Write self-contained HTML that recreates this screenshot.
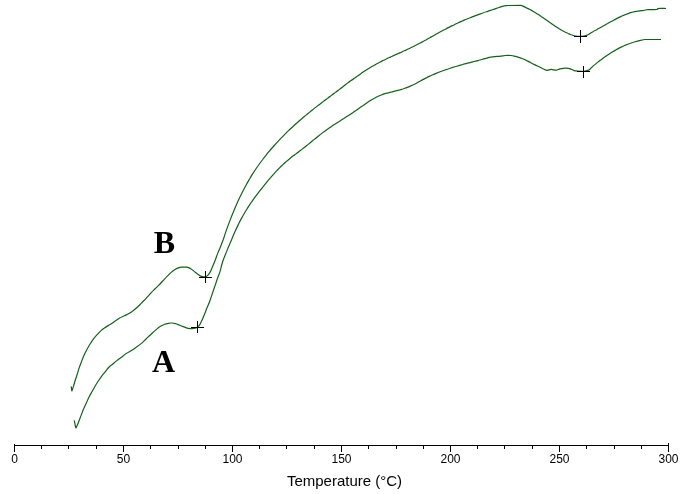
<!DOCTYPE html>
<html><head><meta charset="utf-8"><title>DSC</title>
<style>
html,body{margin:0;padding:0;background:#fff;}
svg{display:block}
.ax text{font-family:"Liberation Sans",Arial,sans-serif;font-size:12px;fill:#000}
.lab{font-family:"Liberation Serif","Times New Roman",serif;font-weight:bold;font-size:32px;fill:#000}
.xl{font-family:"Liberation Sans",Arial,sans-serif;font-size:15px;fill:#000}
</style></head><body>
<svg width="688" height="494" viewBox="0 0 688 494">
<rect width="688" height="494" fill="#fff"/>
<g fill="none" stroke="#14601a" stroke-width="1.2" stroke-linejoin="round" stroke-linecap="butt">
<path d="M71.2,386.4L71.8,391.3M71.8,391.3C72.0,390.6 72.6,389.0 73.2,387.1C73.8,385.2 74.7,382.1 75.3,380.0C75.9,377.9 76.5,376.6 77.1,374.7C77.7,372.8 78.2,370.7 78.9,368.6C79.6,366.5 80.6,364.0 81.4,361.9C82.2,359.8 82.9,357.8 83.8,355.8C84.7,353.8 85.8,351.7 86.8,349.8C87.8,347.9 88.8,346.1 89.9,344.3C91.0,342.5 92.3,340.4 93.5,338.8C94.7,337.2 96.0,335.9 97.2,334.6C98.4,333.3 99.6,332.0 100.8,330.9C102.0,329.8 102.9,328.9 104.4,327.9C105.9,326.8 108.2,325.7 110.0,324.6C111.8,323.5 113.3,322.3 114.9,321.2C116.5,320.1 118.1,319.0 119.7,318.1C121.3,317.2 123.0,316.5 124.6,315.7C126.2,314.9 128.0,314.1 129.4,313.3C130.8,312.5 131.9,311.7 133.1,310.8C134.3,309.9 135.5,308.9 136.7,307.8C137.9,306.7 139.2,305.4 140.4,304.2C141.6,303.0 142.8,301.8 144.0,300.5C145.2,299.2 146.5,297.9 147.7,296.6C148.9,295.3 150.1,293.9 151.3,292.6C152.5,291.3 153.7,290.2 154.9,289.0C156.1,287.8 157.8,286.1 158.6,285.3C159.4,284.5 159.2,284.9 160.0,284.0C160.8,283.1 162.4,281.4 163.6,280.1C164.8,278.8 166.1,277.4 167.3,276.2C168.5,274.9 169.7,273.7 170.9,272.6C172.1,271.5 173.4,270.6 174.6,269.8C175.8,269.0 177.0,268.3 178.2,267.9C179.4,267.5 180.6,267.3 181.9,267.2C183.2,267.1 184.9,267.1 186.1,267.2C187.3,267.3 188.2,267.5 189.2,267.9C190.2,268.3 191.2,269.1 192.2,269.8C193.2,270.5 194.2,271.4 195.2,272.2C196.2,273.0 197.3,273.9 198.3,274.6C199.3,275.3 200.1,276.0 201.3,276.4C202.5,276.8 204.8,277.1 205.5,277.2M205.5,277.2C205.9,276.9 207.2,276.1 208.0,275.2C208.8,274.3 209.6,273.1 210.4,271.6C211.2,270.1 212.0,268.0 212.8,266.1C213.6,264.2 214.5,262.1 215.3,260.0C216.1,257.9 216.9,255.4 217.7,253.4C218.5,251.4 219.1,250.1 220.0,247.9C220.9,245.7 222.0,242.9 223.1,240.0C224.2,237.1 225.1,233.8 226.3,230.4C227.5,227.0 229.0,223.0 230.3,219.6C231.6,216.1 233.0,212.8 234.3,209.7C235.6,206.5 237.0,203.5 238.3,200.6C239.6,197.7 241.0,194.9 242.3,192.3C243.6,189.6 245.0,187.1 246.3,184.7C247.6,182.3 249.0,180.0 250.3,177.7C251.6,175.5 253.0,173.4 254.3,171.3C255.6,169.3 257.0,167.3 258.3,165.5C259.6,163.6 261.0,161.7 262.3,160.0C263.6,158.2 265.0,156.5 266.3,154.9C267.6,153.2 269.0,151.6 270.3,150.0C271.6,148.5 273.0,147.0 274.3,145.5C275.6,144.0 277.0,142.5 278.3,141.1C279.6,139.6 281.0,138.2 282.3,136.9C283.6,135.5 285.0,134.2 286.3,132.8C287.6,131.5 289.0,130.3 290.3,129.0C291.6,127.7 293.0,126.5 294.3,125.3C295.6,124.1 297.0,122.9 298.3,121.7C299.6,120.5 301.0,119.4 302.3,118.2C303.6,117.1 305.0,116.0 306.3,114.9C307.6,113.8 309.0,112.7 310.3,111.6C311.6,110.5 313.0,109.5 314.3,108.4C315.6,107.4 317.0,106.3 318.3,105.3C319.6,104.3 321.0,103.3 322.3,102.2C323.6,101.2 325.0,100.2 326.3,99.2C327.6,98.2 329.0,97.2 330.3,96.2C331.6,95.2 333.0,94.2 334.3,93.2C335.6,92.2 337.0,91.2 338.3,90.2C339.6,89.2 341.0,88.2 342.3,87.2C343.6,86.1 345.0,85.1 346.3,84.1C347.6,83.1 349.0,82.1 350.3,81.1C351.6,80.2 353.0,79.2 354.3,78.2C355.6,77.2 357.0,76.3 358.3,75.4C359.6,74.4 361.0,73.5 362.3,72.6C363.6,71.7 365.0,70.9 366.3,70.0C367.6,69.2 369.0,68.3 370.3,67.5C371.6,66.7 373.0,66.0 374.3,65.2C375.6,64.4 377.0,63.7 378.3,63.0C379.6,62.3 381.0,61.6 382.3,60.9C383.6,60.3 385.0,59.6 386.3,59.0C387.6,58.3 389.0,57.7 390.3,57.1C391.6,56.5 393.0,55.9 394.3,55.3C395.6,54.7 397.0,54.1 398.3,53.5C399.6,52.9 401.0,52.3 402.3,51.7C403.6,51.1 405.0,50.5 406.3,49.9C407.6,49.2 409.0,48.6 410.3,48.0C411.6,47.3 413.0,46.7 414.3,46.0C415.6,45.4 417.0,44.7 418.3,44.0C419.6,43.3 421.0,42.6 422.3,41.9C423.6,41.1 425.0,40.4 426.3,39.7C427.6,38.9 429.0,38.2 430.3,37.4C431.6,36.7 433.0,36.0 434.3,35.2C435.6,34.5 437.0,33.7 438.3,33.0C439.6,32.2 441.0,31.5 442.3,30.8C443.6,30.1 445.0,29.4 446.3,28.7C447.6,28.0 449.0,27.3 450.3,26.6C451.6,26.0 453.0,25.3 454.3,24.7C455.6,24.0 457.0,23.4 458.3,22.8C459.6,22.2 461.0,21.6 462.3,21.0C463.6,20.4 465.0,19.9 466.3,19.3C467.6,18.8 469.0,18.2 470.3,17.7C471.6,17.2 473.0,16.6 474.3,16.1C475.6,15.6 477.0,15.1 478.3,14.6C479.6,14.1 481.0,13.7 482.3,13.2C483.6,12.7 485.0,12.2 486.3,11.8C487.6,11.3 489.0,10.9 490.3,10.4C491.6,10.0 493.0,9.5 494.3,9.1C495.6,8.6 497.0,8.2 498.3,7.7C499.6,7.3 501.5,6.7 502.3,6.4C503.1,6.1 502.4,6.2 503.3,6.1C504.2,5.9 506.8,5.6 507.5,5.5M507.5,5.5L521.5,5.4M521.5,5.4C522.3,5.8 525.2,7.2 526.5,7.9C527.8,8.5 528.5,8.8 529.5,9.3C530.5,9.8 531.5,10.4 532.5,10.9C533.5,11.5 534.5,12.1 535.5,12.7C536.5,13.3 537.5,14.0 538.5,14.6C539.5,15.3 540.5,16.0 541.5,16.7C542.5,17.3 543.5,18.0 544.5,18.7C545.5,19.4 546.5,20.1 547.5,20.8C548.5,21.5 549.5,22.2 550.5,22.9C551.5,23.6 552.5,24.3 553.5,25.0C554.5,25.7 555.5,26.4 556.5,27.0C557.5,27.7 558.5,28.3 559.5,28.9C560.5,29.5 561.5,30.1 562.5,30.7C563.5,31.2 564.5,31.8 565.5,32.3C566.5,32.8 567.7,33.3 568.5,33.7C569.3,34.1 569.2,34.1 570.4,34.5C571.5,34.9 573.7,35.7 575.4,36.0C577.1,36.3 578.6,36.5 580.5,36.4C582.4,36.3 584.6,36.1 586.6,35.4C588.6,34.7 591.1,32.8 592.6,31.9C594.1,31.0 594.6,30.8 595.6,30.3C596.6,29.7 597.6,29.2 598.6,28.6C599.6,28.0 600.6,27.5 601.6,26.9C602.6,26.3 603.6,25.8 604.6,25.2C605.6,24.6 606.6,24.0 607.6,23.5C608.6,22.9 609.6,22.3 610.6,21.8C611.6,21.2 612.6,20.7 613.6,20.2C614.6,19.6 615.6,19.1 616.6,18.6C617.6,18.1 618.6,17.6 619.6,17.1C620.6,16.6 621.6,16.2 622.6,15.7C623.6,15.3 624.6,14.9 625.6,14.5C626.6,14.1 627.6,13.7 628.6,13.4C629.6,13.0 630.6,12.7 631.6,12.4C632.6,12.1 633.6,11.9 634.6,11.6C635.6,11.4 636.6,11.2 637.6,11.1C638.6,10.9 639.8,10.8 640.6,10.7C641.4,10.6 641.5,10.8 642.6,10.6C643.8,10.4 646.7,9.7 647.5,9.5M647.5,9.5C649.1,9.5 655.2,9.7 657.0,9.5C658.8,9.3 656.5,8.7 658.0,8.5C659.5,8.3 664.7,8.5 666.0,8.5"/>
<path d="M74.2,420.3L75.8,428.2M75.8,428.2C76.1,427.5 76.9,426.0 77.8,423.9C78.7,421.8 80.2,417.7 81.1,415.4C82.0,413.1 82.3,412.0 83.1,410.0C83.9,408.0 85.1,405.6 86.1,403.4C87.1,401.2 88.2,398.8 89.2,396.8C90.2,394.8 91.2,393.1 92.2,391.3C93.2,389.5 94.3,387.5 95.3,385.8C96.3,384.1 97.2,382.7 98.3,381.0C99.4,379.3 100.7,377.4 101.9,375.8C103.1,374.2 104.4,372.8 105.6,371.3C106.8,369.8 108.0,368.2 109.2,367.0C110.4,365.8 111.7,365.0 112.9,364.0C114.1,363.0 115.1,362.0 116.5,360.9C117.9,359.8 119.8,358.5 121.4,357.3C123.0,356.1 124.6,354.7 126.2,353.6C127.8,352.5 129.5,351.8 131.1,350.8C132.7,349.8 133.7,349.1 135.5,347.8C137.3,346.5 139.9,344.6 141.7,343.1C143.4,341.6 144.6,340.3 146.0,339.0C147.4,337.7 148.7,336.4 150.0,335.2C151.3,334.0 152.4,333.0 153.6,331.9C154.8,330.8 156.1,329.6 157.3,328.6C158.5,327.6 159.7,326.8 160.9,326.1C162.1,325.4 163.4,324.8 164.6,324.3C165.8,323.8 167.0,323.5 168.2,323.3C169.4,323.1 170.7,322.9 171.9,323.0C173.1,323.1 174.3,323.3 175.5,323.6C176.7,323.9 177.9,324.5 179.1,325.0C180.3,325.5 181.6,325.9 182.8,326.4C184.0,326.9 185.2,327.5 186.4,327.9C187.6,328.3 188.9,328.5 190.1,328.6C191.3,328.7 192.5,328.6 193.7,328.4C194.9,328.2 196.8,327.6 197.4,327.4M197.4,327.4C197.8,326.9 199.0,325.9 199.8,324.6C200.6,323.3 201.4,321.6 202.2,319.8C203.0,318.0 203.9,315.7 204.7,313.7C205.5,311.7 206.2,309.8 207.1,307.6C208.0,305.4 209.1,303.1 210.0,300.5C210.9,297.9 211.9,294.8 212.8,292.2C213.7,289.6 214.5,287.3 215.3,284.9C216.1,282.5 216.9,279.9 217.7,277.7C218.5,275.5 219.2,274.3 220.0,271.6C220.8,268.9 221.7,264.7 222.8,261.3C223.9,257.9 225.4,254.7 226.8,251.1C228.2,247.5 230.2,243.2 231.5,240.0C232.8,236.8 233.6,234.8 234.8,232.1C236.0,229.3 237.5,226.2 238.8,223.5C240.1,220.9 241.5,218.4 242.8,216.0C244.1,213.6 245.5,211.3 246.8,209.2C248.1,207.0 249.5,205.0 250.8,203.0C252.1,201.1 253.5,199.2 254.8,197.4C256.1,195.6 257.5,193.8 258.8,192.1C260.1,190.4 261.5,188.7 262.8,187.1C264.1,185.4 265.5,183.7 266.8,182.1C268.1,180.5 269.5,178.9 270.8,177.4C272.1,175.8 273.5,174.3 274.8,172.8C276.1,171.4 277.5,170.0 278.8,168.6C280.1,167.3 281.5,165.9 282.8,164.7C284.1,163.4 285.5,162.3 286.8,161.1C288.1,160.0 289.5,158.9 290.8,157.8C292.1,156.7 293.5,155.7 294.8,154.7C296.1,153.7 297.5,152.7 298.8,151.7C300.1,150.7 301.5,149.7 302.8,148.6C304.1,147.6 305.5,146.6 306.8,145.5C308.1,144.4 309.5,143.3 310.8,142.2C312.1,141.1 313.5,140.0 314.8,138.9C316.1,137.9 317.5,136.8 318.8,135.7C320.1,134.7 321.5,133.6 322.8,132.6C324.1,131.6 325.5,130.7 326.8,129.7C328.1,128.8 329.5,127.8 330.8,126.9C332.1,126.0 333.5,125.1 334.8,124.3C336.1,123.4 337.5,122.5 338.8,121.7C340.1,120.8 341.5,120.0 342.8,119.1C344.1,118.3 345.5,117.5 346.8,116.6C348.1,115.8 349.5,114.9 350.8,114.0C352.1,113.1 353.5,112.2 354.8,111.3C356.1,110.4 357.5,109.4 358.8,108.5C360.1,107.6 361.5,106.6 362.8,105.7C364.1,104.7 365.5,103.8 366.8,102.9C368.1,102.0 369.5,101.1 370.8,100.3C372.1,99.5 373.5,98.7 374.8,98.0C376.1,97.2 377.5,96.6 378.8,96.0C380.1,95.4 381.5,94.9 382.8,94.4C384.1,93.9 385.5,93.5 386.8,93.2C388.1,92.8 389.5,92.5 390.8,92.2C392.1,91.8 393.5,91.5 394.8,91.2C396.1,90.9 397.5,90.5 398.8,90.2C400.1,89.8 401.5,89.4 402.8,89.0C404.1,88.5 405.5,88.1 406.8,87.6C408.1,87.1 409.5,86.5 410.8,85.9C412.1,85.3 413.5,84.6 414.8,84.0C416.1,83.3 417.5,82.5 418.8,81.8C420.1,81.1 421.5,80.3 422.8,79.6C424.1,78.9 425.5,78.2 426.8,77.6C428.1,76.9 429.5,76.3 430.8,75.7C432.1,75.1 433.5,74.5 434.8,73.9C436.1,73.4 437.5,72.8 438.8,72.3C440.1,71.8 441.5,71.3 442.8,70.8C444.1,70.3 445.5,69.8 446.8,69.4C448.1,68.9 449.5,68.5 450.8,68.0C452.1,67.6 453.5,67.2 454.8,66.8C456.1,66.4 457.5,66.0 458.8,65.6C460.1,65.2 461.5,64.9 462.8,64.5C464.1,64.1 465.5,63.8 466.8,63.4C468.1,63.1 469.5,62.7 470.8,62.4C472.1,62.0 473.5,61.7 474.8,61.3C476.1,61.0 477.5,60.6 478.8,60.3C480.1,59.9 481.5,59.6 482.8,59.2C484.1,58.9 485.5,58.5 486.8,58.2C488.1,57.8 488.1,57.5 490.4,57.2C492.7,56.8 498.0,56.4 500.5,56.1C503.0,55.8 503.8,55.6 505.5,55.5C507.2,55.4 509.3,55.4 511.0,55.5C512.7,55.6 513.5,55.9 515.5,56.4C517.5,56.9 520.2,57.6 522.8,58.7C525.4,59.8 528.5,61.6 530.9,62.8C533.2,64.0 534.9,64.8 536.9,65.8C538.9,66.8 541.3,68.0 543.0,68.8C544.7,69.5 545.6,70.2 547.0,70.3C548.4,70.4 549.6,69.4 551.1,69.4C552.6,69.4 554.7,70.3 556.2,70.2C557.7,70.1 558.5,69.1 560.2,68.8C561.9,68.5 564.4,68.1 566.3,68.2C568.2,68.3 569.9,68.8 571.4,69.2C572.9,69.7 573.4,70.5 575.4,70.9C577.4,71.3 582.1,71.4 583.5,71.5M583.5,71.5C584.4,71.3 587.2,70.8 588.6,70.1C590.0,69.5 590.6,68.3 591.6,67.5C592.6,66.6 593.6,65.7 594.6,64.9C595.6,64.1 596.6,63.2 597.6,62.4C598.6,61.6 599.6,60.8 600.6,60.1C601.6,59.3 602.6,58.6 603.6,57.8C604.6,57.1 605.6,56.4 606.6,55.7C607.6,55.0 608.6,54.4 609.6,53.7C610.6,53.1 611.6,52.4 612.6,51.8C613.6,51.2 614.6,50.6 615.6,50.1C616.6,49.5 617.6,48.9 618.6,48.4C619.6,47.9 620.6,47.4 621.6,46.9C622.6,46.4 623.6,46.0 624.6,45.5C625.6,45.1 626.6,44.7 627.6,44.3C628.6,43.9 629.6,43.5 630.6,43.2C631.6,42.8 632.6,42.5 633.6,42.2C634.6,41.9 635.6,41.6 636.6,41.3C637.6,41.1 639.0,40.8 639.6,40.6C640.2,40.5 639.7,40.6 640.5,40.4C641.3,40.3 643.8,39.7 644.5,39.5M644.5,39.5L661.0,39.5"/>
</g>
<g fill="#000" shape-rendering="crispEdges">
<rect x="14" y="445" width="655" height="1"/>
<rect x="14" y="444" width="1" height="8"/><rect x="41" y="445" width="1" height="4"/><rect x="68" y="445" width="1" height="4"/><rect x="96" y="445" width="1" height="4"/><rect x="123" y="445" width="1" height="7"/><rect x="150" y="445" width="1" height="4"/><rect x="178" y="445" width="1" height="4"/><rect x="205" y="445" width="1" height="4"/><rect x="232" y="445" width="1" height="7"/><rect x="259" y="445" width="1" height="4"/><rect x="286" y="445" width="1" height="4"/><rect x="314" y="445" width="1" height="4"/><rect x="341" y="445" width="1" height="7"/><rect x="368" y="445" width="1" height="4"/><rect x="396" y="445" width="1" height="4"/><rect x="423" y="445" width="1" height="4"/><rect x="450" y="445" width="1" height="7"/><rect x="477" y="445" width="1" height="4"/><rect x="504" y="445" width="1" height="4"/><rect x="532" y="445" width="1" height="4"/><rect x="559" y="445" width="1" height="7"/><rect x="586" y="445" width="1" height="4"/><rect x="614" y="445" width="1" height="4"/><rect x="641" y="445" width="1" height="4"/><rect x="668" y="443" width="1" height="9"/>
<rect x="199" y="277" width="13" height="1"/><rect x="205" y="271" width="1" height="12"/><rect x="191" y="327" width="13" height="1"/><rect x="197" y="321" width="1" height="12"/><rect x="574" y="36" width="13" height="1"/><rect x="580" y="30" width="1" height="13"/><rect x="577" y="71" width="13" height="1"/><rect x="583" y="66" width="1" height="12"/>
</g>
<g class="ax"><text x="14.5" y="463" text-anchor="middle">0</text><text x="123.5" y="463" text-anchor="middle">50</text><text x="232.5" y="463" text-anchor="middle">100</text><text x="341.5" y="463" text-anchor="middle">150</text><text x="450.5" y="463" text-anchor="middle">200</text><text x="559.5" y="463" text-anchor="middle">250</text><text x="668.5" y="463" text-anchor="middle">300</text></g>
<text class="lab" x="153.8" y="253">B</text>
<text class="lab" x="152" y="372">A</text>
<text class="xl" x="344.5" y="486" text-anchor="middle">Temperature (°C)</text>
</svg>
</body></html>
